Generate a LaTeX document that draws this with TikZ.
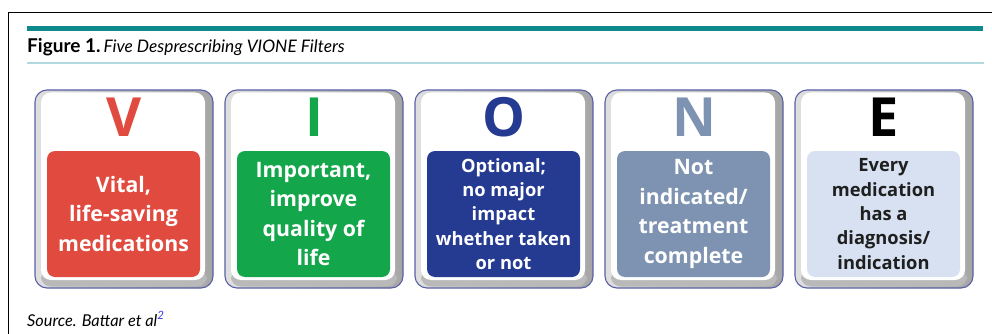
\documentclass[tikz,border=0pt]{standalone}
\usepackage{fontspec}
\setmainfont{Open Sans}
\newfontfamily\titlefont{Lato}
\definecolor{tealbar}{HTML}{0E898E}
\definecolor{tealline}{HTML}{B2D9DD}
\definecolor{boxedge}{HTML}{5A60A6}
\definecolor{cV}{HTML}{E04A3F}
\definecolor{cI}{HTML}{14A64B}
\definecolor{cO}{HTML}{253A91}
\definecolor{cN}{HTML}{7D93B1}
\definecolor{cE}{HTML}{D7E1F1}
\definecolor{supblue}{HTML}{3A3AE0}
\tikzset{
  outerkey/.style={draw=boxedge, line width=1.1pt, rounded corners=12pt, left color=gray!25, right color=gray!70},
  whiteface/.style={fill=white, rounded corners=10pt},
  colorface/.style={rounded corners=8pt},
  bigletter/.style={font=\fontsize{54}{54}\selectfont\bfseries, anchor=center},
  bigtext/.style={font=\fontsize{21.3}{29.5}\selectfont\bfseries, align=center, text=white, anchor=center},
  smalltext/.style={font=\fontsize{18.3}{24.3}\selectfont\bfseries, align=center, text=white, anchor=center},
}
\begin{document}
\begin{tikzpicture}[x=1pt,y=-1pt]
\useasboundingbox (0,0) rectangle (992,334);
\fill[white] (0,0) rectangle (992,334);
\draw[black, line width=1pt] (8,334) -- (8,12.5) -- (992,12.5);
\fill[tealbar] (27,26) rectangle (983,31);
\fill[tealline] (27,62.3) rectangle (984,64.3);
\node[anchor=base west, inner sep=0pt, font=\titlefont\fontsize{17.3}{20}\selectfont] (title) at (27,52.5) {{\fontsize{19}{20}\selectfont\textbf{Figure 1.}}\,\textit{Five Desprescribing VIONE Filters}};
\foreach \x/\n/\L/\col/\lcol/\txt/\sty/\tcol in {
  35/V/V/cV/cV/{Vital,\\life-saving\\medications}/bigtext/white,
  225/I/I/cI/cI/{Important,\\improve\\quality of\\life}/bigtext/white,
  415/O/O/cO/cO/{Optional;\\no major\\impact\\whether taken\\or not}/smalltext/white,
  605/N/N/cN/cN/{Not\\indicated/\\treatment\\complete}/bigtext/white,
  795/E/E/cE/black/{Every\\medication\\has a\\diagnosis/\\indication}/smalltext/black!88}
{
  \path[outerkey] (\x,90) rectangle (\x+178,288);
  \fill[gray!55, rounded corners=10pt] (\x+6,270) rectangle (\x+172,286.5);
  \fill[whiteface] (\x+6,92.5) rectangle (\x+170,280);
  \fill[colorface, fill=\col] (\x+12,151) rectangle (\x+165,277);
  \coordinate (face-\n) at (\x+88.5,214);
  \node[bigletter, text=\lcol] (letter-\n) at (\x+89,117) {\L};
  \node[\sty, text=\tcol] (text-\n) at (face-\n) {\txt};
}
\node[anchor=base west, inner sep=0pt, font=\titlefont\fontsize{16.3}{20}\selectfont\itshape] (source) at (27,326) {Source. Battar et al\textsuperscript{\textcolor{supblue}{2}}};
\end{tikzpicture}
\end{document}
